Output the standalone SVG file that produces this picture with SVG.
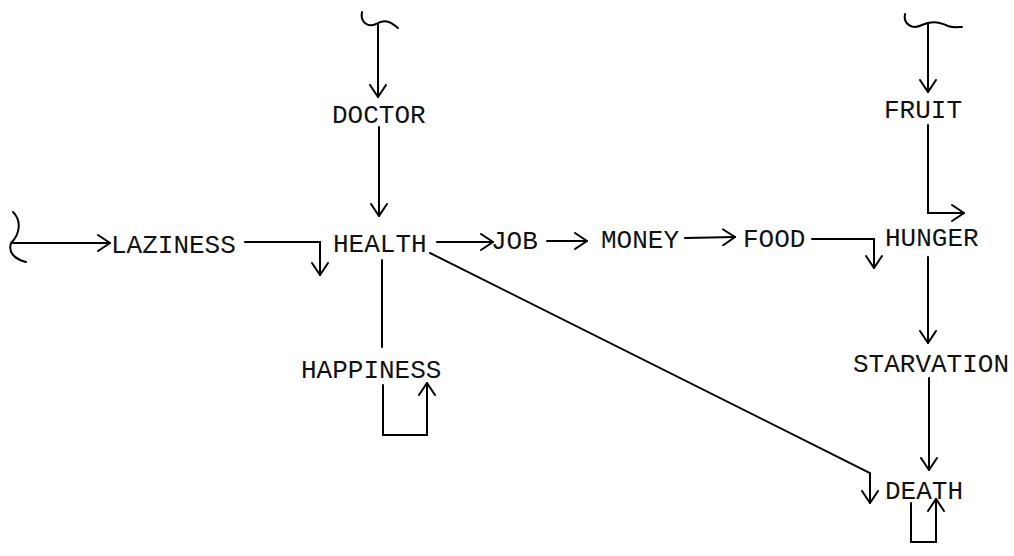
<svg xmlns="http://www.w3.org/2000/svg" width="1014" height="556" viewBox="0 0 1014 556">
<style>
.lbl{font-family:"Liberation Mono","Courier New",monospace;font-size:26px;fill:#111}
.ln{fill:none;stroke:#000;stroke-width:2;stroke-linecap:round;stroke-linejoin:miter}
.arr{marker-end:url(#ah)}
</style>
<defs>
<marker id="ah" viewBox="0 0 14 18" refX="13" refY="9" markerWidth="14" markerHeight="18" markerUnits="userSpaceOnUse" orient="auto">
<path d="M1,1 L13,9 L1,17" fill="none" stroke="#000" stroke-width="2" stroke-linecap="round"/>
</marker>
</defs>
<rect width="1014" height="556" fill="#fff"/>
<g id="connectors">
<path class="ln" d="M362,12 C360,22 368,28 376,24 C384,19 390,21 398,28"/>
<path class="ln arr" d="M378,24 L378,97"/>
<path class="ln arr" d="M379,127 L379,216"/>
<path class="ln" d="M905,14 C903,24 912,30 922,25 C932,20 940,22 948,26 C953,28 958,27 962,27"/>
<path class="ln arr" d="M928,24 L928,92"/>
<path class="ln arr" d="M928,125 L928,213 L964,213"/>
<path class="ln" d="M13,212 C21,220 21,233 11,243 C8,252 14,259 26,262"/>
<path class="ln arr" d="M12,243 L110,243"/>
<path class="ln arr" d="M245,242 L320,242 L320,275"/>
<path class="ln arr" d="M437,242 L493,242"/>
<path class="ln arr" d="M547,241 L587,241"/>
<path class="ln arr" d="M685,238 L735,237"/>
<path class="ln arr" d="M812,239 L874,239 L874,268"/>
<path class="ln arr" d="M928,257 L928,343"/>
<path class="ln arr" d="M929,378 L929,470"/>
<path class="ln" d="M382,260 L382,347"/>
<path class="ln arr" d="M383,385 L383,435 L427,435 L427,383"/>
<path class="ln arr" d="M430,253 L870,473 L870,503"/>
<path class="ln arr" d="M911,503 L911,542 L936,542 L936,499"/>
</g>
<g id="doctor"><text class="lbl" x="332" y="123">DOCTOR</text></g>
<g id="fruit"><text class="lbl" x="884" y="118">FRUIT</text></g>
<g id="laziness"><text class="lbl" x="111" y="253">LAZINESS</text></g>
<g id="health"><text class="lbl" x="333" y="252">HEALTH</text></g>
<g id="job"><text class="lbl" x="491" y="249">JOB</text></g>
<g id="money"><text class="lbl" x="601" y="248">MONEY</text></g>
<g id="food"><text class="lbl" x="743" y="247">FOOD</text></g>
<g id="hunger"><text class="lbl" x="885" y="246">HUNGER</text></g>
<g id="happiness"><text class="lbl" x="301" y="378">HAPPINESS</text></g>
<g id="starvation"><text class="lbl" x="853" y="372">STARVATION</text></g>
<g id="death"><text class="lbl" x="885" y="499">DEATH</text></g>
</svg>
